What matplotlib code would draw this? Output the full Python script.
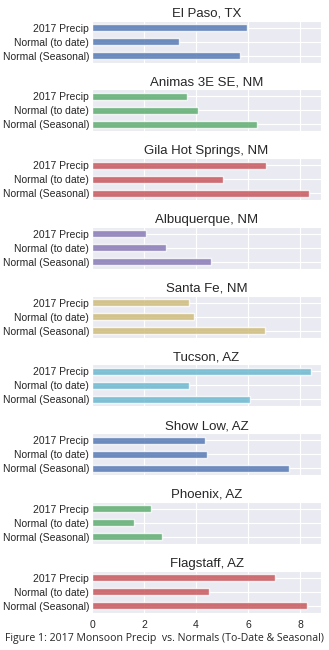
import matplotlib
matplotlib.use("Agg")
import matplotlib.pyplot as plt
import seaborn as sns

sns.set_style("darkgrid")
plt.rcParams['font.family'] = ['Liberation Sans', 'DejaVu Sans']

stations = ["El Paso, TX", "Animas 3E SE, NM", "Gila Hot Springs, NM", "Albuquerque, NM",
            "Santa Fe, NM", "Tucson, AZ", "Show Low, AZ", "Phoenix, AZ", "Flagstaff, AZ"]
labels = ["2017 Precip", "Normal (to date)", "Normal (Seasonal)"]
precip_2017 = [5.95, 3.64, 6.68, 2.06, 3.73, 8.40, 4.33, 2.26, 7.04]
normal_to_date = [3.33, 4.09, 5.03, 2.85, 3.92, 3.71, 4.41, 1.60, 4.50]
normal_seasonal = [5.69, 6.33, 8.33, 4.59, 6.65, 6.06, 7.56, 2.69, 8.28]
colors = ["#4C72B0", "#55A868", "#C44E52", "#8172B2", "#CCB974",
          "#64B5CD", "#4C72B0", "#55A868", "#C44E52"]

fig = plt.figure(figsize=(3.29, 6.5), dpi=100)
W, H = 329.0, 650.0
left, right = 92 / W, 321 / W
ax_h = 42 / H
for i, name in enumerate(stations):
    top = 20.7 + i * 68.75
    ax = fig.add_axes([left, 1 - (top + 42) / H, right - left, ax_h])
    vals = [precip_2017[i], normal_to_date[i], normal_seasonal[i]]
    ax.barh([2, 1, 0], vals, height=0.5, color=colors[i], alpha=0.8)
    ax.set_ylim(-0.5, 2.5)
    ax.set_xlim(0, 8.8)
    ax.set_yticks([2, 1, 0])
    ax.set_yticklabels(labels, fontsize=7.5)
    ax.set_xticks([0, 2, 4, 6, 8])
    ax.tick_params(axis='both', length=0, pad=2)
    if i < len(stations) - 1:
        ax.set_xticklabels([])
    else:
        ax.tick_params(axis='x', labelsize=7.5, pad=5)
    ax.set_title(name, fontsize=9.5, pad=3)

fig.text(0.5, 1 - 638 / H, "Figure 1: 2017 Monsoon Precip  vs. Normals (To-Date & Seasonal)",
         ha='center', va='center', fontsize=7.6, family=['Open Sans', 'DejaVu Sans'])

fig.savefig("out.png", dpi=100)
